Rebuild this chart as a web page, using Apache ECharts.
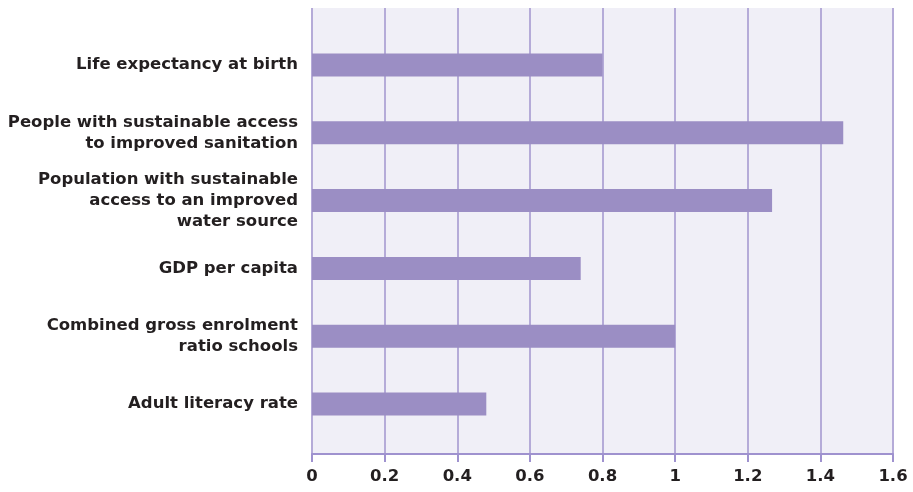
<!DOCTYPE html>
<html>
<head>
<meta charset="utf-8">
<script src="https://cdn.jsdelivr.net/npm/echarts@6/dist/echarts.min.js"></script>
<style>
  html, body { margin: 0; padding: 0; background: #ffffff; }
  #chart { width: 913px; height: 492px; }
</style>
</head>
<body>
<div id="chart"></div>
<script>
// Indicator names, listed bottom to top as the category axis draws them
const categories = [
  'Adult literacy rate',
  'Combined gross enrolment\nratio schools',
  'GDP per capita',
  'Population with sustainable\naccess to an improved\nwater source',
  'People with sustainable access\nto improved sanitation',
  'Life expectancy at birth'
];
const values = [0.48, 1.0, 0.74, 1.267, 1.463, 0.8];
const tickLabels = ['0', '0.2', '0.4', '0.6', '0.8', '1', '1.2', '1.4', '1.6'];

const axisMin = 0, axisMax = 1.6, step = 0.2;
const textColor = '#231f20';
const fontFamily = '"DejaVu Sans", sans-serif';

const chart = echarts.init(document.getElementById('chart'));
chart.setOption({
  animation: false,
  grid: [
    // frame: background, vertical gridlines, value axis
    { left: 312, right: 20, top: 8, bottom: 38, show: true, backgroundColor: '#f0eff7', borderWidth: 0 },
    // bars and category labels
    { left: 312, right: 20, top: 31, bottom: 54, show: false }
  ],
  xAxis: [
    {
      gridIndex: 0, type: 'value', min: axisMin, max: axisMax, interval: step,
      axisLine: { show: true, lineStyle: { color: '#9f92cf', width: 2 } },
      axisTick: { show: true, length: 8, lineStyle: { color: '#9f92cf', width: 2 } },
      splitLine: { show: true, lineStyle: { color: '#b5abd8', width: 2 } },
      axisLabel: {
        color: textColor, fontFamily: fontFamily, fontWeight: 'bold', fontSize: 16.5, margin: 14,
        formatter: (v) => tickLabels[Math.round((v - axisMin) / step)] ?? ''
      }
    },
    { gridIndex: 1, type: 'value', min: axisMin, max: axisMax, show: false }
  ],
  yAxis: [
    { gridIndex: 0, type: 'value', show: false },
    {
      gridIndex: 1, type: 'category', data: categories,
      axisLine: { show: false }, axisTick: { show: false },
      axisLabel: {
        color: textColor, fontFamily: fontFamily, fontWeight: 'bold', fontSize: 16.5,
        lineHeight: 21, margin: 14, align: 'right'
      }
    }
  ],
  series: [{
    type: 'bar', xAxisIndex: 1, yAxisIndex: 1, data: values,
    barWidth: 23, itemStyle: { color: '#9b8ec4' }
  }]
});
</script>
</body>
</html>
